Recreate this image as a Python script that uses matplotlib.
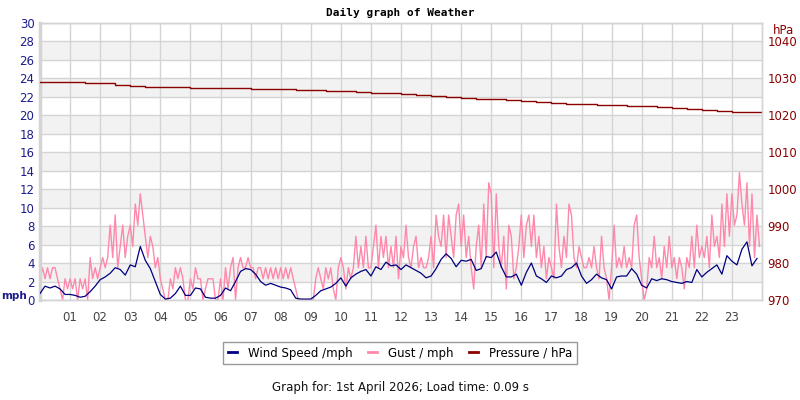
import numpy as np
import matplotlib
matplotlib.use('Agg')
import matplotlib.pyplot as plt
from matplotlib.lines import Line2D

# wind speed, mph, one value every 10 minutes (6 per hour)
wind = [
    0.7, 1.5, 1.3, 1.5, 1.2, 0.6,
    0.6, 0.5, 0.3, 0.4, 0.9, 1.5,
    2.2, 2.5, 2.9, 3.5, 3.3, 2.7,
    3.8, 3.6, 5.8, 4.3, 3.4, 2.0,
    0.6, 0.1, 0.2, 0.7, 1.5, 0.5,
    0.5, 1.3, 1.2, 0.3, 0.2, 0.2,
    0.5, 1.3, 1.0, 2.0, 3.1, 3.4,
    3.3, 2.8, 2.0, 1.6, 1.8, 1.6,
    1.4, 1.3, 1.1, 0.2, 0.1, 0.1,
    0.1, 0.5, 1.0, 1.2, 1.4, 1.8,
    2.4, 1.5, 2.4, 2.8, 3.1, 3.3,
    2.6, 3.6, 3.3, 4.1, 3.7, 3.8,
    3.3, 3.8, 3.5, 3.2, 2.9, 2.4,
    2.6, 3.4, 4.4, 5.0, 4.5, 3.6,
    4.3, 4.2, 4.4, 3.2, 3.4, 4.7,
    4.6, 5.2, 3.6, 2.5, 2.5, 2.8,
    1.6, 3.0, 4.0, 2.6, 2.3, 1.9,
    2.6, 2.4, 2.6, 3.3, 3.5, 4.0,
    2.6, 1.8, 2.2, 2.8, 2.4, 2.2,
    1.2, 2.5, 2.6, 2.6, 3.4, 2.8,
    1.6, 1.3, 2.3, 2.1, 2.3, 2.2,
    2.0, 1.9, 1.8, 2.0, 1.9, 3.3,
    2.5, 3.0, 3.4, 3.8, 2.8, 4.8,
    4.2, 3.8, 5.5, 6.3, 3.7, 4.5,
]

# gust, mph, one value every 5 minutes (12 per hour)
gust = [
    2.3, 3.5, 2.3, 3.5, 2.3, 3.5, 3.5, 2.3, 1.2, 0.0, 2.3, 1.2,
    2.3, 1.2, 2.3, 0.0, 2.3, 1.2, 2.3, 0.0, 4.6, 2.3, 3.5, 2.3,
    3.5, 4.6, 3.5, 4.6, 8.1, 4.6, 9.2, 3.5, 5.8, 8.1, 4.6, 6.9,
    8.1, 5.8, 10.4, 8.1, 11.5, 9.2, 6.9, 4.6, 6.9, 5.8, 3.5, 4.6,
    2.3, 1.2, 0.0, 0.0, 2.3, 1.2, 3.5, 2.3, 3.5, 2.3, 0.0, 0.0,
    2.3, 1.2, 3.5, 2.3, 2.3, 0.0, 1.2, 2.3, 2.3, 2.3, 0.0, 0.0,
    2.3, 0.0, 3.5, 1.2, 3.5, 4.6, 0.0, 3.5, 4.6, 3.5, 3.5, 4.6,
    3.5, 3.5, 2.3, 3.5, 3.5, 2.3, 3.5, 2.3, 3.5, 2.3, 3.5, 2.3,
    3.5, 2.3, 3.5, 2.3, 3.5, 2.3, 1.2, 0.0, 0.0, 0.0, 0.0, 0.0,
    0.0, 0.0, 2.3, 3.5, 2.3, 1.2, 3.5, 2.3, 3.5, 1.2, 0.0, 3.5,
    4.6, 3.5, 1.2, 3.5, 2.3, 3.5, 6.9, 3.5, 5.8, 3.5, 6.9, 3.5,
    3.5, 5.8, 8.1, 3.5, 6.9, 4.6, 6.9, 3.5, 5.8, 3.5, 6.9, 2.3,
    5.8, 4.6, 8.1, 4.6, 3.5, 5.8, 6.9, 3.5, 4.6, 3.5, 3.5, 4.6,
    6.9, 3.5, 9.2, 6.9, 5.8, 9.2, 4.6, 9.2, 6.9, 4.6, 9.2, 10.4,
    5.8, 9.2, 4.6, 6.9, 3.5, 1.2, 5.8, 8.1, 3.5, 10.4, 4.6, 12.7,
    11.5, 3.5, 11.5, 5.8, 3.5, 6.9, 1.2, 8.1, 6.9, 2.3, 3.5, 5.8,
    9.2, 4.6, 8.1, 9.2, 5.8, 9.2, 4.6, 6.9, 3.5, 5.8, 2.3, 4.6,
    3.5, 2.3, 10.4, 5.8, 3.5, 6.9, 4.6, 10.4, 9.2, 4.6, 3.5, 5.8,
    4.6, 3.5, 3.5, 4.6, 3.5, 5.8, 3.5, 2.3, 6.9, 3.5, 2.3, 0.0,
    3.5, 8.1, 3.5, 4.6, 3.5, 5.8, 3.5, 4.6, 3.5, 8.1, 9.2, 4.6,
    2.3, 0.0, 1.2, 4.6, 3.5, 6.9, 3.5, 4.6, 2.3, 5.8, 3.5, 6.9,
    3.5, 4.6, 2.3, 4.6, 3.5, 1.2, 4.6, 3.5, 6.9, 3.5, 8.1, 4.6,
    5.8, 4.6, 6.9, 3.5, 9.2, 5.8, 6.9, 4.6, 10.4, 5.8, 11.5, 6.9,
    11.5, 8.1, 9.2, 13.8, 10.4, 8.1, 12.7, 5.8, 11.5, 4.6, 9.2, 5.8,
]

# pressure, hPa, every 30 minutes
pressure = [
    1029.1, 1029.0, 1028.9, 1028.8, 1028.7, 1028.3, 1028.0, 1027.8,
    1027.6, 1027.6, 1027.5, 1027.4, 1027.3, 1027.3, 1027.2, 1027.1,
    1027.0, 1026.9, 1026.8, 1026.7, 1026.5, 1026.3, 1026.1, 1026.0,
    1025.8, 1025.6, 1025.3, 1025.0, 1024.8, 1024.5, 1024.3, 1024.1,
    1023.8, 1023.5, 1023.3, 1023.1, 1023.0, 1022.9, 1022.7, 1022.6,
    1022.5, 1022.3, 1021.9, 1021.8, 1021.5, 1021.2, 1020.9, 1020.9,
    1020.9,
]

hour_labels = ['%02d' % h for h in range(1, 24)]

t_wind = np.arange(len(wind)) / 6
t_gust = np.arange(len(gust)) / 12
t_pres = np.arange(len(pressure)) / 2

navy = '#1c1c8c'
dred = '#8b0000'

fig = plt.figure(figsize=(8, 4), dpi=100)
ax = fig.add_axes([0.05, 0.25, 0.9025, 0.6925])
ax2 = ax.twinx()

# alternating grey bands
for y0 in range(2, 30, 4):
    ax.axhspan(y0, y0 + 2, color='#f2f2f2', zorder=0, lw=0)

ax.plot(t_gust, gust, color='#ff88aa', lw=1, zorder=2)
ax.plot(t_wind, wind, color='#000080', lw=0.9, zorder=3)
ax2.plot(t_pres, pressure, color=dred, lw=1, drawstyle='steps-post')

ax.set_xlim(0, 24)
ax.set_ylim(0, 30)
ax2.set_ylim(970, 1045)

ax.set_xticks(range(1, 24))
ax.set_xticklabels(hour_labels)
ax.set_yticks(range(0, 31, 2))
ax2.set_yticks(range(970, 1041, 10))

ax.grid(True, color='#d4d4d4', lw=1, zorder=1)
ax.set_axisbelow(True)

ax.tick_params(axis='x', length=0, labelsize=8.5, labelcolor='#444444', pad=8)
ax.tick_params(axis='y', length=0, labelsize=8.5, labelcolor=navy, pad=4)
ax2.tick_params(axis='y', length=0, labelsize=8.5, labelcolor=dred, pad=4)

for a in (ax, ax2):
    for s in a.spines.values():
        s.set_color('#d4d4d4')
        s.set_linewidth(1)
ax.spines['left'].set_linewidth(2.5)
ax2.spines['left'].set_visible(False)

fig.text(0.5, 0.967, 'Daily graph of Weather', ha='center', va='center',
         family='DejaVu Sans Mono', weight='bold', fontsize=8)
fig.text(0.002, 0.26, 'mph', ha='left', va='center', color=navy,
         weight='bold', fontsize=7.5)
fig.text(0.98, 0.925, 'hPa', ha='center', va='center', color=dred, fontsize=8.5)

handles = [Line2D([], [], color='#000080', lw=2),
           Line2D([], [], color='#ff88aa', lw=2),
           Line2D([], [], color=dred, lw=2)]
leg = fig.legend(handles, ['Wind Speed /mph', 'Gust / mph', 'Pressure / hPa'],
                 loc='center', bbox_to_anchor=(0.5, 0.1175), ncol=3,
                 fontsize=8.5, frameon=True, fancybox=False,
                 handlelength=0.8, handletextpad=0.9, columnspacing=1.3,
                 borderpad=0.4, borderaxespad=0)
leg.get_frame().set_edgecolor('#808080')
leg.get_frame().set_linewidth(1)

fig.text(0.5, 0.03, 'Graph for: 1st April 2026; Load time: 0.09 s',
         ha='center', va='center', fontsize=8.5, color='#111111')

fig.savefig('out.png', dpi=100)
